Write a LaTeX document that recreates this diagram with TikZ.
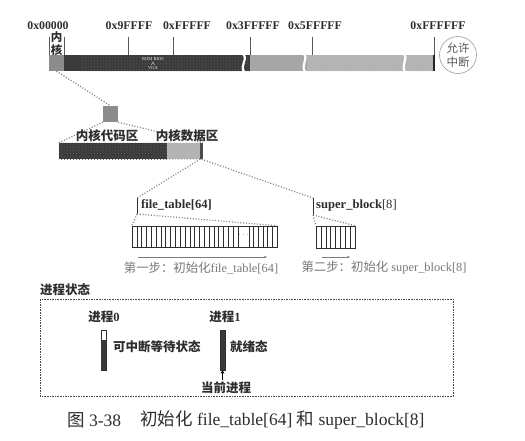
\documentclass[tikz,border=0pt]{standalone}
\usepackage{fontspec}
\setmainfont{Liberation Serif}
\newfontfamily\cjk{Noto Sans CJK SC}
\usetikzlibrary{patterns,arrows.meta}
\definecolor{darkbar}{HTML}{3A3A3A}
\definecolor{kerngray}{HTML}{8C8C8C}
\definecolor{lightbar}{HTML}{A6A6A6}
\definecolor{lighthatch}{HTML}{B4B4B4}
\definecolor{inkgray}{HTML}{2E2E2E}
\definecolor{capgray}{HTML}{7A7A7A}
\definecolor{dotgray}{HTML}{7E7E7E}
\begin{document}
\begin{tikzpicture}[x=1pt,y=-1pt,
  addr/.style={font=\bfseries\fontsize{11.8}{12}\selectfont, text=inkgray, inner sep=0pt},
  tickline/.style={draw=gray!70!black, line width=0.6pt},
  dotline/.style={draw=dotgray, line width=1.2pt, dash pattern=on 1pt off 1.8pt},
  breakline/.style={draw=white, line width=2.2pt},
  cjkbold/.style={font=\cjk\bfseries\fontsize{12.5}{13}\selectfont, text=inkgray, inner sep=0pt},
  latinbold/.style={font=\bfseries\fontsize{12.6}{13}\selectfont, text=inkgray, inner sep=0pt},
  stepcap/.style={font=\fontsize{12.4}{13}\selectfont, text=capgray, inner sep=0pt},
  cellbox/.style={draw=inkgray, line width=0.5pt},
  steparrow/.style={draw=capgray, line width=0.6pt, -{Stealth[length=3pt,width=2.5pt]}},
  regionbox/.style={draw=none, inner sep=0pt, minimum height=16pt}
]
\useasboundingbox[fill=white] (0,0) rectangle (525,440);

% ---------- memory bar ----------
\node[regionbox, fill=kerngray, minimum width=15pt] (kern) at (56.5,63) {};
\fill[darkbar] (64,55) rectangle (250,71);
\fill[pattern=crosshatch dots, pattern color=gray!70!black] (80,55) rectangle (250,71);
\fill[lightbar] (250,55) rectangle (307,71);
\fill[lighthatch] (307,55) rectangle (433,71);
\fill[pattern=crosshatch dots, pattern color=gray!55] (307,55) rectangle (433,71);
\fill[gray!30!black] (433,55) rectangle (435,71);
% breaks
\draw[breakline] (242,53) .. controls (250,59) and (238,65) .. (245,73);
\draw[breakline] (303,53) .. controls (310,59) and (299,65) .. (306,73);
\draw[breakline] (403,53) .. controls (410,59) and (399,65) .. (406,73);

% ROM BIOS / VGA
\node[font=\fontsize{4.5}{4.5}\selectfont, text=white!85!gray, inner sep=0pt] (rom) at (153,59) {ROM BIOS};
\node[font=\fontsize{4.5}{4.5}\selectfont, text=white!85!gray, inner sep=0pt] (vga) at (153,68) {VGA};
\draw[white!85!gray, line width=0.4pt] (151.5,65) -- (153,62) -- (154.5,65);

% ticks
\draw[tickline] (49,37) -- (49,55);
\draw[tickline] (64,37) -- (64,55);
\draw[tickline] (128,37) -- (128,55);
\draw[tickline] (173,37) -- (173,55);
\draw[tickline] (250,37) -- (250,55);
\draw[tickline] (312,37) -- (312,55);
\draw[tickline] (434,37) -- (434,55);

% address labels
\node[addr] (a0) at (48,26) {0x00000};
\node[addr] (a1) at (129,26) {0x9FFFF};
\node[addr] (a2) at (187,26) {0xFFFFF};
\node[addr] (a3) at (253,26) {0x3FFFFF};
\node[addr] (a4) at (315,26) {0x5FFFFF};
\node[addr] (a5) at (438,26) {0xFFFFFF};
\node[cjkbold, font=\cjk\bfseries\fontsize{11.5}{12}\selectfont] (nei) at (56.5,37) {内};
\node[cjkbold, font=\cjk\bfseries\fontsize{11.5}{12}\selectfont] (he) at (56.5,50) {核};

% interrupt circle
\node[circle, draw=gray!70, line width=0.7pt, minimum size=37pt, inner sep=0pt,
      align=center, text=gray!70!black, font=\cjk\fontsize{11.5}{14}\selectfont] (irq) at (458,55) {允许\\中断};

% ---------- kernel zoom ----------
\node[regionbox, fill=kerngray, minimum width=15pt, minimum height=16pt] (sq) at (110.5,114) {};
\draw[dotline] (kern.south) -- (sq.north);

\node[regionbox, fill=darkbar, minimum width=108pt] (code) at (113,151) {};
\fill[pattern=crosshatch dots, pattern color=gray!70!black] (code.north west) rectangle (code.south east);
\node[regionbox, fill=lighthatch, minimum width=33pt] (data) at (183.5,151) {};
\fill[pattern=crosshatch dots, pattern color=gray!60] (data.north west) rectangle (data.south east);
\node[regionbox, fill=gray!60!black, minimum width=3pt] (dstrip) at (201.5,151) {};

\draw[dotline] (sq.south west) -- (code.north west);
\draw[dotline] (sq.south east) -- (dstrip.north east);

\node[cjkbold] (codelab) at (107,136) {内核代码区};
\node[cjkbold] (datalab) at (187,136) {内核数据区};

% ---------- file_table ----------
\coordinate (ft1) at (137,198);
\coordinate (ft2) at (137,214);
\coordinate (sb1) at (313,198);
\coordinate (sb2) at (313,215);
\draw[dotline] (data.south east) -- (ft1);
\draw[dotline] (dstrip.south) -- (sb1);
\draw[tickline, draw=inkgray] (ft1) -- (ft2);
\draw[tickline, draw=inkgray] (sb1) -- (sb2);

\node[latinbold, anchor=west] (ftlab) at (141,205) {file\_table[64]};
\node[latinbold, anchor=west] (sblab) at (316,205) {super\_block{\mdseries[8]}};

\node[cellbox, minimum width=145pt, minimum height=21pt, inner sep=0pt] (farr) at (204.5,236.5) {};
\foreach \i in {1,...,22} { \draw[cellbox] ({132+\i*106/22},226) -- ({132+\i*106/22},247); }
\foreach \i in {1,...,5} { \draw[cellbox] ({249+\i*28/6},226) -- ({249+\i*28/6},247); }
\draw[cellbox] (249,226) -- (249,247);
\node[font=\fontsize{7}{7}\selectfont, text=inkgray, inner sep=0pt] (dots) at (243.5,235) {$\cdots$};
\draw[dotline] (ft2) -- (farr.north west);
\draw[dotline] (ft2) -- (farr.north east);

\node[cellbox, minimum width=39pt, minimum height=22pt, inner sep=0pt] (sarr) at (335.5,237) {};
\foreach \i in {1,...,7} { \draw[cellbox] ({316+\i*39/8},226) -- ({316+\i*39/8},248); }
\draw[dotline] (sb2) -- (sarr.north west);
\draw[dotline] (sb2) -- (sarr.north east);

\coordinate (fa1) at (138,257);
\coordinate (fa2) at (267,257);
\coordinate (sa1) at (322,257);
\coordinate (sa2) at (350,257);
\draw[steparrow] (fa1) -- (fa2);
\draw[steparrow] (sa1) -- (sa2);

\node[stepcap] (step1) at (201,268) {{\cjk 第一步：初始化}file\_table[64]};
\node[stepcap] (step2) at (384,268) {{\cjk 第二步：初始化} super\_block[8]};

% ---------- process states ----------
\node[cjkbold, anchor=west] (pstate) at (40,290) {进程状态};
\draw[draw=gray!55!black, line width=1pt, dash pattern=on 1.6pt off 1pt] (40,299) rectangle (453,396);

\node[cjkbold] (p0) at (104,317) {进程{\rmfamily\bfseries 0}};
\node[cjkbold] (p1) at (225,317) {进程{\rmfamily\bfseries 1}};

\node[draw=inkgray, line width=0.5pt, minimum width=5pt, minimum height=40pt, inner sep=0pt] (p0bar) at (103.5,350) {};
\fill[gray!45!black] (101.3,340) rectangle (105.7,369.7);
\node[draw=inkgray, fill=darkbar, line width=0.5pt, minimum width=5pt, minimum height=40pt, inner sep=0pt] (p1bar) at (222.5,350) {};

\node[cjkbold, anchor=west] (p0lab) at (113,347) {可中断等待状态};
\node[cjkbold, anchor=west] (p1lab) at (230,347) {就绪态};
\node[cjkbold] (cur) at (226,388) {当前进程};
\draw[black, line width=1.3pt, -{Triangle[length=3pt,width=3.5pt]}] (222.5,380) -- (p1bar.south);

% ---------- caption ----------
\node[font=\fontsize{17.5}{18}\selectfont, text=inkgray, inner sep=0pt, anchor=west] (figno) at (67,420) {{\cjk 图} 3-38};
\node[font=\fontsize{17.5}{18}\selectfont, text=inkgray, inner sep=0pt, anchor=west] (figcap) at (140,420) {{\cjk 初始化} file\_table[64] {\cjk 和} super\_block[8]};
\end{tikzpicture}
\end{document}
